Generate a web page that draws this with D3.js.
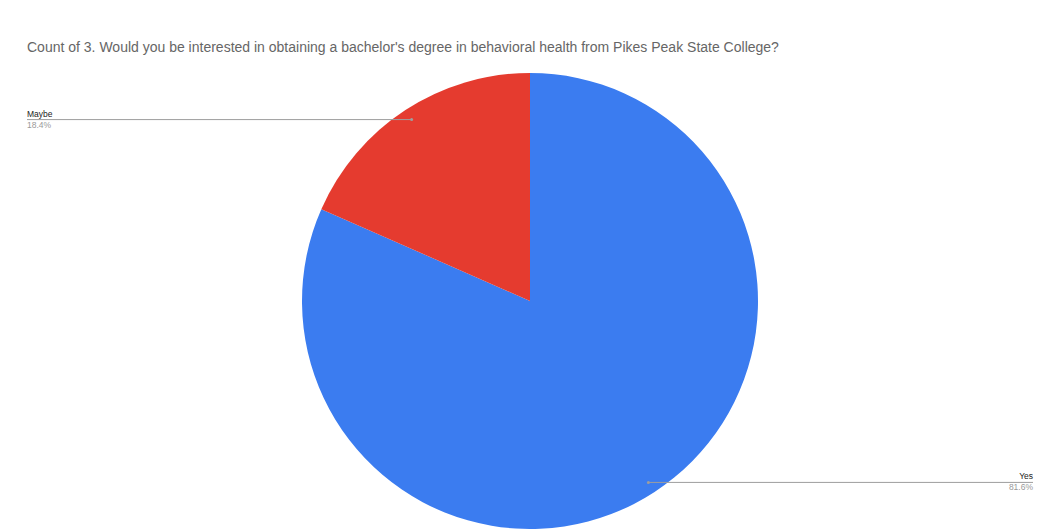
<!DOCTYPE html>
<html>
<head>
<meta charset="utf-8">
<script src="https://cdn.jsdelivr.net/npm/d3@7"></script>
<style>
  body { margin: 0; background: #fff; }
  text { font-family: "Liberation Sans", Arial, sans-serif; }
</style>
</head>
<body>
<svg id="pie-chart" width="1052" height="529"></svg>
<script>
// chart data
var categories = ["Yes", "Maybe"]
var percents = [81.6, 18.4]
var colors = ["#3b7cf0", "#e53b2f"]
var titleText = "Count of 3. Would you be interested in obtaining a bachelor's degree in behavioral health from Pikes Peak State College?"

var drawTitle = function(svg) {
    svg.append("text")
        .text(titleText)
        .attr("x", 27)
        .attr("y", 52)
        .style("font-size", 14)
        .style("fill", "#666666")
}

var drawPie = function(svg, center, radius, dataReady) {
    var pie = d3.pie()
        .sort(null)
        .value(function(d) { return d.value })

    var arc = d3.arc()
        .innerRadius(0)
        .outerRadius(radius)

    var target = svg.append("g")
        .attr("transform", "translate(" + center.x + "," + center.y + ")")

    var arcs = pie(dataReady)

    target.selectAll("mySlices")
        .data(arcs)
        .enter()
        .append("path")
          .attr("d", arc)
          .attr("fill", function(d) { return d.data.color })

    // leader point inside each slice
    var inner = d3.arc()
        .innerRadius(radius * 0.95)
        .outerRadius(radius * 0.95)

    arcs.forEach(function(d) {
        var p = inner.centroid(d)
        var px = center.x + p[0]
        var py = center.y + p[1]
        var right = p[0] > 0
        var endX = right ? 1033 : 27
        var g = svg.append("g")

        g.append("line")
            .attr("x1", px).attr("y1", py)
            .attr("x2", endX).attr("y2", py)
            .attr("stroke", "#9e9e9e")
            .attr("stroke-width", 1)
        g.append("circle")
            .attr("cx", px).attr("cy", py)
            .attr("r", 1.5)
            .attr("fill", "#9e9e9e")
        g.append("text")
            .text(d.data.name)
            .attr("x", endX)
            .attr("y", py - 3)
            .attr("text-anchor", right ? "end" : "start")
            .style("font-size", 8.5)
            .style("fill", "#222222")
        g.append("text")
            .text(d.data.value.toFixed(1) + "%")
            .attr("x", endX)
            .attr("y", py + 8)
            .attr("text-anchor", right ? "end" : "start")
            .style("font-size", 8.5)
            .style("fill", "#999999")
    })
}

var initChart = function() {
    var svg = d3.select("#pie-chart")
    var center = {x: 530, y: 301}
    var radius = 228

    var dataReady = categories.map(function(name, i) {
        return {name: name, value: percents[i], color: colors[i]}
    })

    drawTitle(svg)
    drawPie(svg, center, radius, dataReady)
}

initChart()
</script>
</body>
</html>
